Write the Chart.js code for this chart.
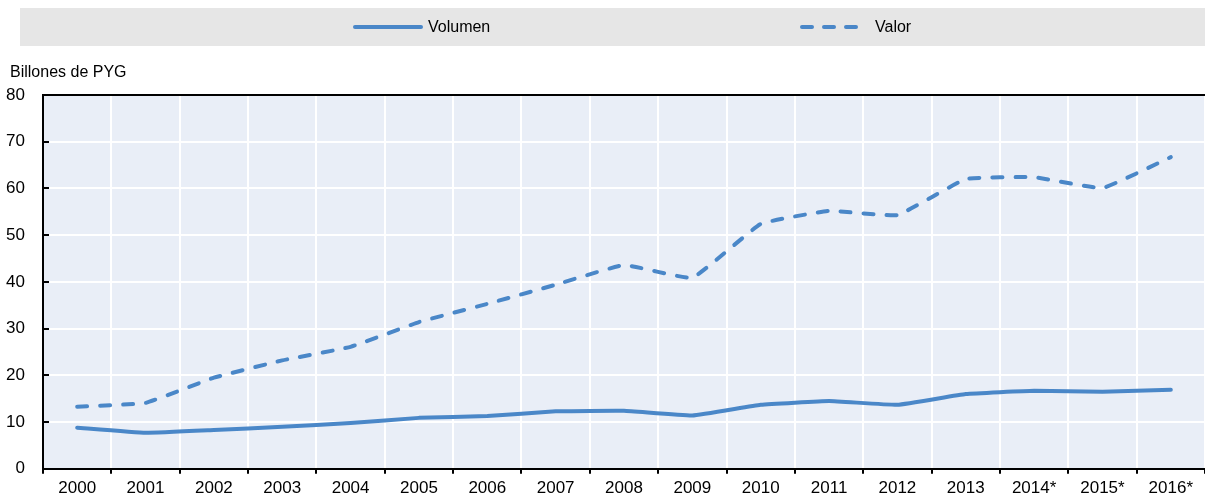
<!DOCTYPE html>
<html>
<head>
<meta charset="utf-8">
<script src="https://cdn.jsdelivr.net/npm/chart.js@4/dist/chart.umd.min.js"></script>
<style>
  html, body { margin: 0; padding: 0; background: #fff; overflow: hidden; }
  #wrap { position: relative; width: 1205px; height: 498px; overflow: hidden; }
</style>
</head>
<body>
<div id="wrap"><canvas id="chart" width="1205" height="503"></canvas></div>
<script>
const years = ['2000', '2001', '2002', '2003', '2004', '2005', '2006', '2007', '2008',
  '2009', '2010', '2011', '2012', '2013', '2014*', '2015*', '2016*'];
const volumen = [8.8, 7.7, 8.3, 9.0, 9.8, 10.9, 11.3, 12.3, 12.4, 11.4, 13.7, 14.5, 13.7, 16.0, 16.7, 16.5, 16.9];
const valor = [13.3, 14.1, 19.5, 23.2, 26.1, 31.4, 35.3, 39.4, 43.6, 40.9, 52.4, 55.2, 54.3, 62.0, 62.4, 60.1, 66.7];
const yTicks = [0, 10, 20, 30, 40, 50, 60, 70, 80];
const yTitle = 'Billones de PYG';

const BLUE = '#4a87c8';
const FONT = '"Liberation Sans", Arial, sans-serif';

// plot background + legend strip + axis title
const decor = {
  id: 'decor',
  beforeDraw(chart) {
    const { ctx, chartArea: a } = chart;
    ctx.save();
    ctx.fillStyle = '#e9eef7';
    ctx.fillRect(a.left, a.top, a.right - a.left, a.bottom - a.top);
    ctx.restore();
  },
  afterDraw(chart) {
    const ctx = chart.ctx;
    ctx.save();
    ctx.fillStyle = '#e6e6e6';
    ctx.fillRect(20, 8, 1185, 38);

    ctx.strokeStyle = BLUE;
    ctx.lineWidth = 4;
    ctx.lineCap = 'round';
    ctx.beginPath();
    ctx.moveTo(355, 27);
    ctx.lineTo(421, 27);
    ctx.stroke();

    ctx.setLineDash([10, 12]);
    ctx.beginPath();
    ctx.moveTo(802, 27);
    ctx.lineTo(866, 27);
    ctx.stroke();
    ctx.setLineDash([]);

    ctx.fillStyle = '#000';
    ctx.font = '16px ' + FONT;
    ctx.textBaseline = 'middle';
    ctx.fillText('Volumen', 428, 28);
    ctx.fillText('Valor', 875, 28);
    ctx.fillText(yTitle, 10, 73);
    ctx.restore();
  }
};

new Chart(document.getElementById('chart'), {
  type: 'line',
  data: {
    labels: years,
    datasets: [
      {
        label: 'Volumen',
        data: volumen,
        borderColor: BLUE,
        borderWidth: 4,
        pointRadius: 0,
        tension: 0.1,
        borderCapStyle: 'round',
        borderJoinStyle: 'round'
      },
      {
        label: 'Valor',
        data: valor,
        borderColor: BLUE,
        borderWidth: 4,
        borderDash: [10, 13],
        pointRadius: 0,
        tension: 0.1,
        borderCapStyle: 'round',
        borderJoinStyle: 'round'
      }
    ]
  },
  options: {
    responsive: false,
    animation: false,
    layout: { padding: { top: 95, right: 0, left: 0, bottom: 0 } },
    plugins: {
      legend: { display: false },
      tooltip: { enabled: false }
    },
    scales: {
      x: {
        offset: true,
        grid: {
          offset: true,
          color: '#ffffff',
          lineWidth: 2,
          tickColor: '#000',
          tickLength: 5
        },
        border: { color: '#000', width: 2 },
        ticks: {
          color: '#000',
          font: { family: FONT, size: 17 },
          padding: 4,
          maxRotation: 0,
          autoSkip: false
        }
      },
      y: {
        min: 0,
        max: 80,
        afterBuildTicks(scale) { scale.ticks = yTicks.map(v => ({ value: v })); },
        grid: {
          color: ctx => (ctx.tick && ctx.tick.value === 80 ? '#000' : '#ffffff'),
          lineWidth: 2,
          tickColor: '#000',
          tickLength: -6
        },
        border: { color: '#000', width: 2 },
        ticks: {
          color: '#000',
          font: { family: FONT, size: 17 },
          padding: 24
        },
        afterFit(scale) { scale.width = 43; }
      }
    }
  },
  plugins: [decor]
});
</script>
</body>
</html>
